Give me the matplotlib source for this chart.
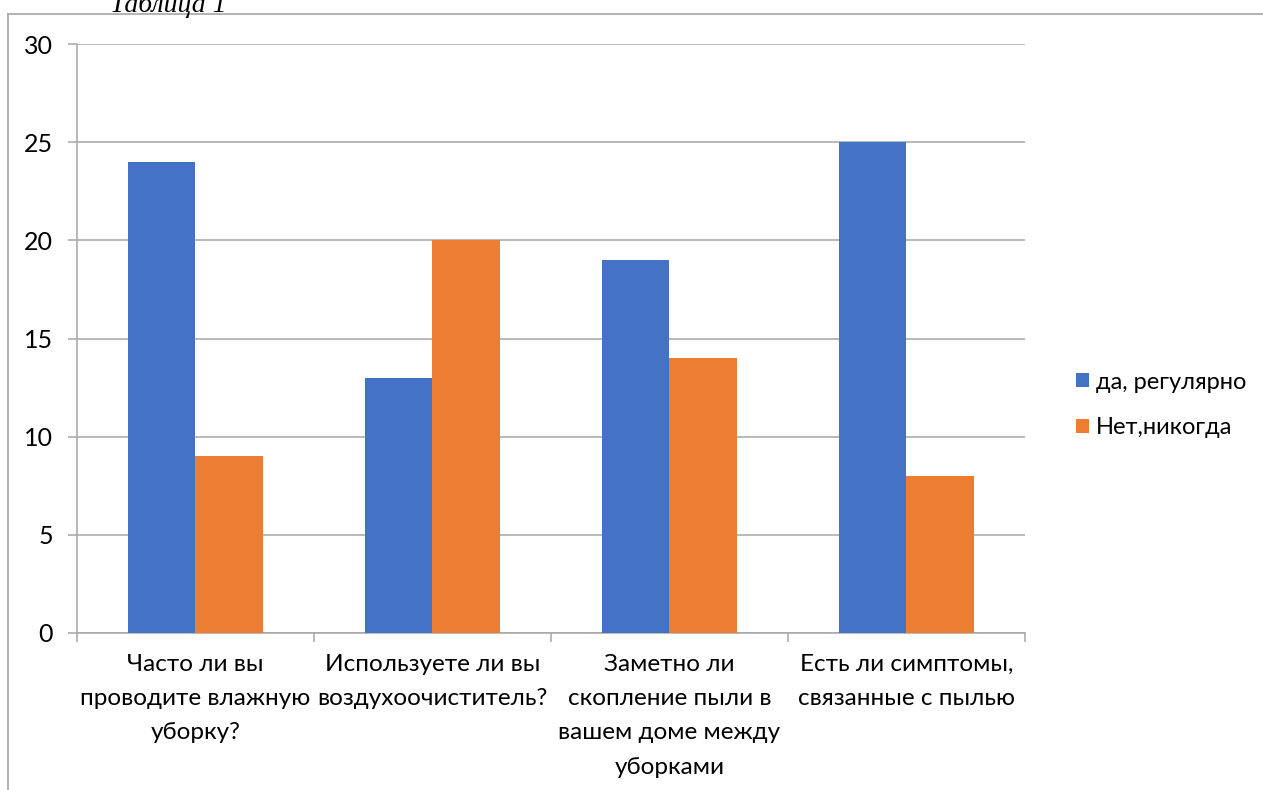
import matplotlib.pyplot as plt
from matplotlib.lines import Line2D
import numpy as np

plt.rcParams['font.family'] = ['Lato', 'DejaVu Sans']

categories = [
    "Часто ли вы\nпроводите влажную\nуборку?",
    "Используете ли вы\nвоздухоочиститель?",
    "Заметно ли\nскопление пыли в\nвашем доме между\nуборками",
    "Есть ли симптомы,\nсвязанные с пылью",
]
yes_regular = [24, 13, 19, 25]
no_never = [9, 20, 14, 8]
series_names = ["да, регулярно", "Нет,никогда"]
yticks = [0, 5, 10, 15, 20, 25, 30]

BLUE = "#4472c4"
ORANGE = "#ed7d31"
GRID = "#a6a6a6"

W, H = 1263, 790
fig = plt.figure(figsize=(W / 100, H / 100), dpi=100)
ax = fig.add_axes([77 / W, 1 - 633 / H, (1025 - 77) / W, (633 - 44) / H])

x = np.arange(len(categories))
bw = 0.285
ax.bar(x - bw / 2, yes_regular, bw, color=BLUE, label=series_names[0], zorder=3)
ax.bar(x + bw / 2, no_never, bw, color=ORANGE, label=series_names[1], zorder=3)

ax.set_xlim(-0.5, len(categories) - 0.5)
ax.set_ylim(0, 30)
ax.set_yticks(yticks)
ax.yaxis.grid(True, color=GRID, linewidth=1.1, zorder=0)
ax.tick_params(axis='y', length=6.5, color=GRID, width=1.1, labelsize=18, pad=11)

# category ticks sit between the groups
ax.set_xticks(x)
ax.set_xticklabels(categories, fontsize=17.5, linespacing=1.78)
ax.tick_params(axis='x', length=0, pad=15)
ax.set_xticks(np.arange(-0.5, len(categories)), minor=True)
ax.tick_params(axis='x', which='minor', length=6.5, color=GRID, width=1.1)

for side in ('top', 'right'):
    ax.spines[side].set_visible(False)
for side in ('left', 'bottom'):
    ax.spines[side].set_color(GRID)
    ax.spines[side].set_linewidth(1.1)

fig.legend(loc='center left', bbox_to_anchor=(1055 / W, 1 - 405 / H),
           frameon=False, fontsize=17, handlelength=0.55, handleheight=0.55,
           handletextpad=0.3, labelspacing=1.05)

# outer frame lines of the embedded chart
fig.add_artist(Line2D([8 / W, 8 / W], [0, 1 - 14 / H], color=GRID,
                      linewidth=1.2, transform=fig.transFigure))
fig.add_artist(Line2D([8 / W, 1], [1 - 14 / H, 1 - 14 / H], color=GRID,
                      linewidth=1.2, transform=fig.transFigure))

fig.text(168 / W, 1 - 12 / H, "Таблица 1", ha='center', va='baseline',
         fontsize=20, style='italic', family=['Liberation Serif', 'DejaVu Serif'])

fig.savefig("out.png", dpi=100)
